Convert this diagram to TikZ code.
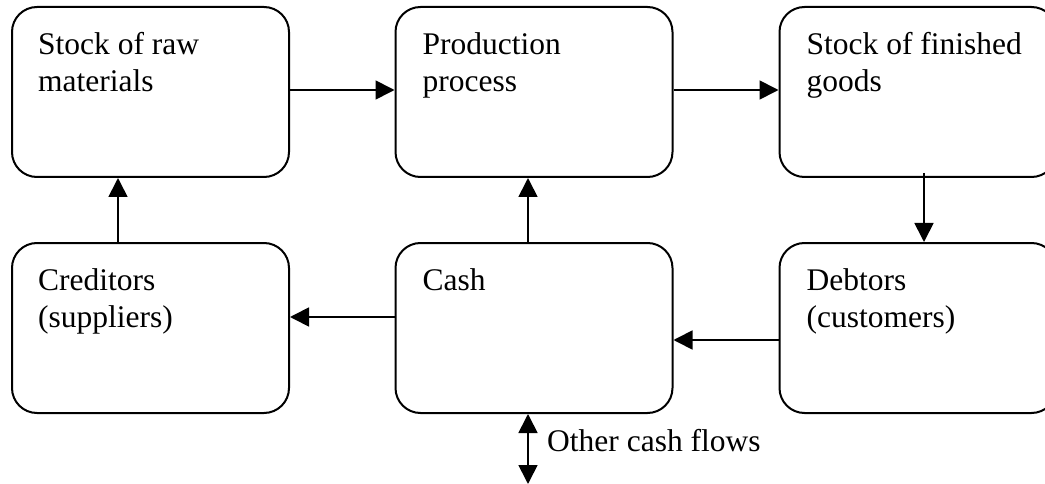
\documentclass[tikz,border=0pt]{standalone}
\usepackage{fontspec}
\setmainfont{Liberation Serif}
\usetikzlibrary{arrows.meta}
\begin{document}
\begin{tikzpicture}[x=1pt,y=-1pt,
  box/.style={draw, line width=2pt, rounded corners=25pt, minimum width=277pt, minimum height=170pt, inner sep=0pt},
  txt/.style={anchor=north west, inner sep=0pt, align=left, font=\fontsize{31.5}{37}\selectfont},
  arr/.style={line width=1.7pt, -{Triangle[length=19pt,width=19pt]}},
  darr/.style={line width=1.7pt, {Triangle[length=19pt,width=19pt]}-{Triangle[length=19pt,width=19pt]}}]
\useasboundingbox (0,0) rectangle (1045,484);
\clip (0,0) rectangle (1045,484);
\node[box] (raw) at (150.5,92) {};
\node[box] (prod) at (534,92) {};
\node[box] (fin) at (918,92) {};
\node[box] (cred) at (150.5,328) {};
\node[box] (cash) at (534,328) {};
\node[box] (debt) at (918,328) {};
\node[txt] (rawt) at ([xshift=27pt,yshift=-26pt]raw.north west) {Stock of raw\\materials};
\node[txt] (prodt) at ([xshift=28pt,yshift=-26pt]prod.north west) {Production\\process};
\node[txt] (fint) at ([xshift=28pt,yshift=-26pt]fin.north west) {Stock of finished\\goods};
\node[txt] (credt) at ([xshift=27pt,yshift=-26pt]cred.north west) {Creditors\\(suppliers)};
\node[txt] (casht) at ([xshift=28pt,yshift=-26pt]cash.north west) {Cash};
\node[txt] (debtt) at ([xshift=28pt,yshift=-26pt]debt.north west) {Debtors\\(customers)};
\draw[arr] ([yshift=2pt]raw.east) -- ([yshift=2pt]prod.west);
\draw[arr] ([yshift=2pt]prod.east) -- ([yshift=2pt]fin.west);
\draw[arr] ([xshift=6pt,yshift=5pt]fin.south) -- ([xshift=6pt]debt.north);
\draw[arr] ([yshift=-12pt]debt.west) -- ([yshift=-12pt]cash.east);
\draw[arr] ([yshift=11pt]cash.west) -- ([yshift=11pt]cred.east);
\draw[arr] ([xshift=-32.5pt]cred.north) -- ([xshift=-32.5pt]raw.south);
\draw[arr] ([xshift=-6pt]cash.north) -- ([xshift=-6pt]prod.south);
\coordinate (ocf) at (528,484);
\draw[darr] ([xshift=-6pt]cash.south) -- (ocf);
\node[anchor=base west, inner sep=0pt, font=\fontsize{31.5}{37}\selectfont] (ocft) at (547,451) {Other cash flows};
\end{tikzpicture}
\end{document}
